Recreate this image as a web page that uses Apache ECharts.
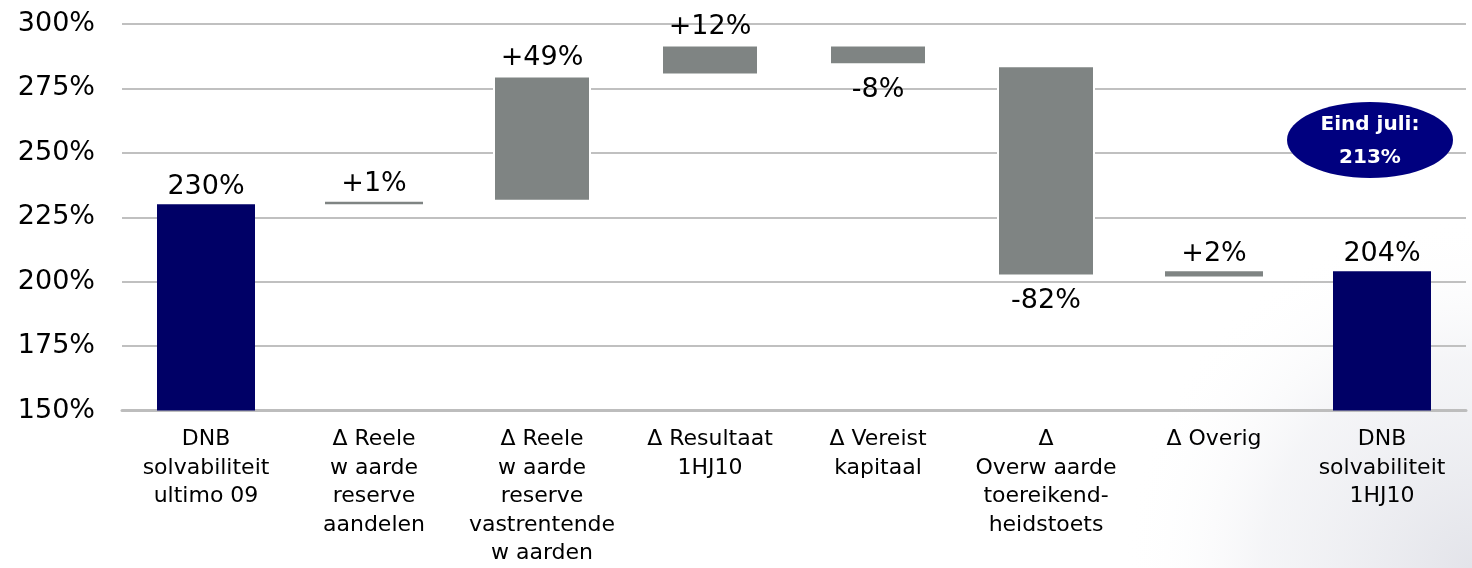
<!DOCTYPE html>
<html>
<head>
<meta charset="utf-8">
<script src="https://cdn.jsdelivr.net/npm/echarts@6/dist/echarts.min.js"></script>
<style>
  html, body { margin: 0; padding: 0; background: #ffffff; }
  #chart { width: 1472px; height: 568px; }
</style>
</head>
<body>
<div id="chart"></div>
<script>
// Waterfall of DNB solvency ratio, end 2009 -> first half 2010
var categories = [
  'DNB\nsolvabiliteit\nultimo 09',
  'Δ Reele\nw aarde\nreserve\naandelen',
  'Δ Reele\nw aarde\nreserve\nvastrentende\nw aarden',
  'Δ Resultaat\n1HJ10',
  'Δ Vereist\nkapitaal',
  'Δ\nOverw aarde\ntoereikend-\nheidstoets',
  'Δ Overig',
  'DNB\nsolvabiliteit\n1HJ10'
];
// totals (start / end), null where the column is a change
var totals = [230, null, null, null, null, null, null, 204];
// changes in percentage points, null where the column is a total
var deltas = [null, 1, 49, 12, -8, -82, 2, null];
var yTicks = { min: 150, max: 300, interval: 25 };
var noteLines = ['Eind juli:', '213%'];

var NAVY = '#000066';
var GREY = '#7f8483';
var FONT = 'DejaVu Sans';

// Build invisible base + visible part for each column
var baseData = [], totalData = [], deltaData = [];
var level = 0;
for (var i = 0; i < categories.length; i++) {
  if (totals[i] !== null) {
    level = totals[i];
    baseData.push(0);
    totalData.push(totals[i]);
    deltaData.push('-');
  } else {
    var d = deltas[i];
    var lo = d >= 0 ? level : level + d;
    baseData.push(lo);
    totalData.push('-');
    deltaData.push({
      value: Math.abs(d),
      // white outline separates larger blocks from the gridlines
      itemStyle: Math.abs(d) >= 5 ? { borderColor: '#ffffff', borderWidth: 2 } : { borderWidth: 0 },
      label: {
        position: d >= 0 ? 'top' : 'bottom',
        distance: d >= 0 ? 4 : 11,
        formatter: (d >= 0 ? '+' : '') + d + '%'
      }
    });
    level += d;
  }
}

var chart = echarts.init(document.getElementById('chart'), null, { renderer: 'canvas' });

var noteFont = 'bold 20px "DejaVu Sans", sans-serif';

chart.setOption({
  backgroundColor: '#ffffff',
  animation: false,
  graphic: [
    {
      type: 'rect',
      z: -10,
      silent: true,
      shape: { x: 700, y: 200, width: 772, height: 368 },
      style: {
        fill: {
          type: 'radial', x: 1, y: 1, r: 0.95,
          colorStops: [
            { offset: 0, color: 'rgba(222,223,230,0.85)' },
            { offset: 0.6, color: 'rgba(232,233,238,0.45)' },
            { offset: 1, color: 'rgba(255,255,255,0)' }
          ]
        }
      }
    },
    {
      type: 'ellipse',
      z: 100,
      shape: { cx: 1370, cy: 140, rx: 83, ry: 38 },
      style: { fill: '#00007f' }
    },
    {
      type: 'text',
      z: 101,
      x: 1370, y: 125,
      style: {
        text: noteLines[0],
        fill: '#ffffff',
        font: noteFont,
        align: 'center',
        verticalAlign: 'middle'
      }
    },
    {
      type: 'text',
      z: 101,
      x: 1370, y: 158,
      style: {
        text: noteLines[1],
        fill: '#ffffff',
        font: noteFont,
        align: 'center',
        verticalAlign: 'middle'
      }
    }
  ],
  grid: { left: 122, right: 6, top: 24, bottom: 154, containLabel: false },
  xAxis: {
    type: 'category',
    data: categories,
    axisTick: { show: false },
    axisLine: { show: true, lineStyle: { color: '#bdbdbd', width: 3 } },
    axisLabel: {
      interval: 0,
      margin: 15,
      color: '#000000',
      fontFamily: FONT,
      fontSize: 22,
      lineHeight: 28.5,
      align: 'center'
    }
  },
  yAxis: {
    type: 'value',
    min: yTicks.min,
    max: yTicks.max,
    interval: yTicks.interval,
    axisLine: { show: false },
    axisTick: { show: false },
    axisLabel: {
      formatter: '{value}%',
      margin: 27,
      color: '#000000',
      fontFamily: FONT,
      fontSize: 27
    },
    splitLine: { lineStyle: { color: '#c0c0c0', width: 2 } }
  },
  series: [
    {
      name: 'base',
      type: 'bar',
      stack: 'w',
      barWidth: 98,
      itemStyle: { color: 'transparent' },
      silent: true,
      data: baseData
    },
    {
      name: 'totaal',
      type: 'bar',
      stack: 'w',
      barWidth: 98,
      itemStyle: { color: NAVY },
      label: {
        show: true,
        position: 'top',
        distance: 4,
        formatter: '{c}%',
        color: '#000000',
        fontFamily: FONT,
        fontSize: 27
      },
      data: totalData
    },
    {
      name: 'mutatie',
      type: 'bar',
      stack: 'w',
      barWidth: 98,
      itemStyle: { color: GREY },
      label: {
        show: true,
        color: '#000000',
        fontFamily: FONT,
        fontSize: 27
      },
      data: deltaData
    }
  ]
});
</script>
</body>
</html>
